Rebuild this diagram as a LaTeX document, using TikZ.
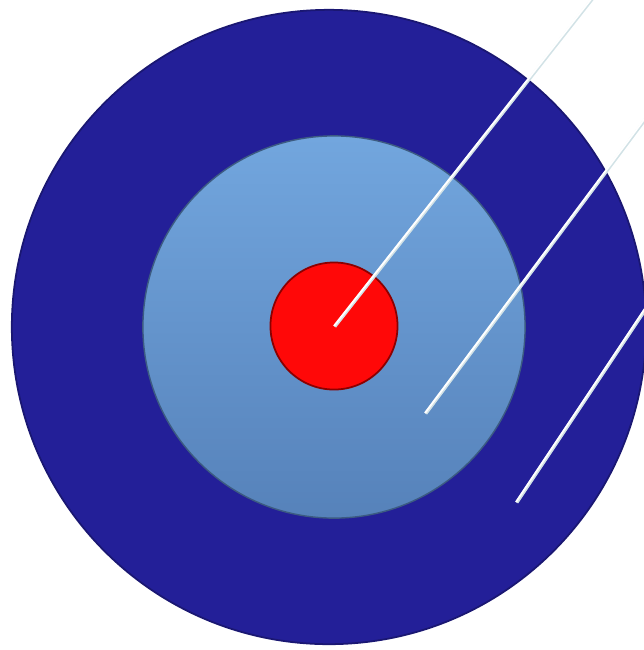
\documentclass[tikz,border=0pt]{standalone}
\usetikzlibrary{positioning}
\definecolor{ringblue}{RGB}{35,31,152}
\definecolor{skytop}{RGB}{114,166,222}
\definecolor{skybot}{RGB}{86,130,186}
\definecolor{bullred}{RGB}{255,8,8}
\definecolor{leadshade}{RGB}{210,226,230}

\begin{document}
\begin{tikzpicture}[x=0.01cm, y=-0.01cm,
  ring/.style={circle, inner sep=0pt, minimum size=#1},
  outerring/.style={ring=6.34cm, fill=ringblue, draw=ringblue!75!black, line width=0.5pt},
  midring/.style={ring=3.82cm, top color=skytop, bottom color=skybot,
                  draw=skybot!70!black, line width=0.4pt},
  bull/.style={ring=1.27cm, fill=bullred, draw=red!55!black, line width=0.5pt},
  lead/.style={white, line width=0.55pt},
  shade/.style={leadshade, line width=0.9pt},
]
\useasboundingbox (0,0) rectangle (644,650);
\clip (0,0) rectangle (644,650);

\node[outerring] (outer) at (329,327) {};
\node[midring]   (mid)   at (334,327) {};
\node[bull]      (eye)   at (334,326) {};

\coordinate (s2) at (425,413);
\coordinate (s3) at (516,502);
\coordinate (e1) at (606,-20);
\coordinate (e2) at (660,98);
\coordinate (e3) at (660,286);

\draw[shade] ([shift={(0.8,0.6)}]eye.center) -- ([shift={(0.8,0.6)}]e1);
\draw[shade] ([shift={(0.8,0.6)}]s2) -- ([shift={(0.8,0.6)}]e2);
\draw[shade] ([shift={(0.8,0.6)}]s3) -- ([shift={(0.8,0.6)}]e3);

\draw[lead] (eye.center) -- (e1);
\draw[lead] (s2) -- (e2);
\draw[lead] (s3) -- (e3);
\end{tikzpicture}
\end{document}
